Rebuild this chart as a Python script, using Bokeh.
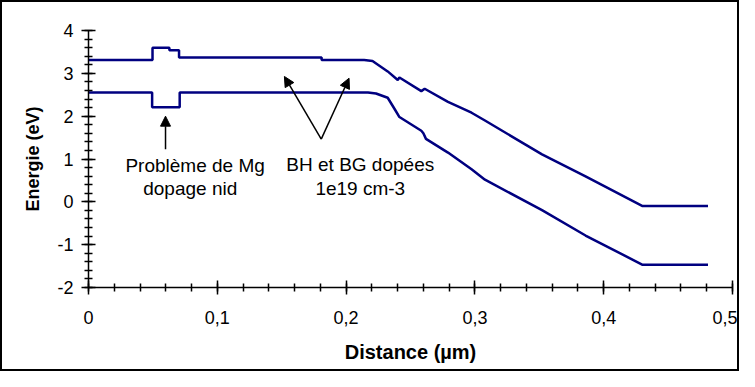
from bokeh.plotting import figure
from bokeh.models import (Range1d, SingleIntervalTicker, CustomJSTickFormatter,
                          Arrow, NormalHead, Label)
from bokeh.embed import file_html
from bokeh.resources import INLINE

# Upper curve
upper_x = [0.0, 0.0497, 0.0497, 0.0628, 0.0628, 0.0703, 0.0703, 0.181, 0.181, 0.214,
           0.2205, 0.2323, 0.2401, 0.2414, 0.2584, 0.261, 0.2791, 0.2974, 0.3078,
           0.3521, 0.3859, 0.4302, 0.481]
upper_y = [3.31, 3.31, 3.60, 3.60, 3.54, 3.54, 3.37, 3.37, 3.31, 3.31,
           3.29, 3.045, 2.846, 2.903, 2.585, 2.64, 2.334, 2.08, 1.898,
           1.109, 0.595, -0.10, -0.10]

# Lower curve
lower_x = [0.0, 0.0494, 0.0494, 0.0708, 0.0708, 0.217, 0.2232, 0.2323, 0.2380, 0.2414,
           0.2584, 0.2600, 0.2620, 0.2791, 0.2974, 0.3078, 0.3521, 0.3859, 0.4302, 0.481]
lower_y = [2.555, 2.555, 2.21, 2.21, 2.555, 2.555, 2.53, 2.43, 2.15, 1.98,
           1.66, 1.60, 1.47, 1.15, 0.76, 0.517, -0.194, -0.787, -1.47, -1.47]

FONT = "Liberation Sans"

p = figure(width=739, height=371, output_backend="svg", toolbar_location=None,
           x_range=Range1d(0, 0.5), y_range=Range1d(-2, 4),
           min_border_left=86, min_border_right=9, min_border_top=28, min_border_bottom=86)
p.styles = {"border": "2px solid black"}
p.grid.visible = False
p.outline_line_color = None
p.background_fill_color = "white"
p.border_fill_color = "white"

p.xaxis.ticker = SingleIntervalTicker(interval=0.1, num_minor_ticks=5)
p.yaxis.ticker = SingleIntervalTicker(interval=1, num_minor_ticks=5)
p.xaxis.formatter = CustomJSTickFormatter(
    code="return Math.abs(tick) < 1e-9 ? '0' : tick.toFixed(1).replace('.', ',');")
p.yaxis.formatter = CustomJSTickFormatter(code="return Math.round(tick).toString();")

for ax in (p.xaxis[0], p.yaxis[0]):
    ax.axis_line_color = "black"
    ax.axis_line_width = 1.5
    ax.major_tick_line_color = "black"
    ax.minor_tick_line_color = "black"
    ax.major_tick_line_width = 1.5
    ax.minor_tick_line_width = 1.5
    ax.major_tick_in = 7
    ax.major_tick_out = 7
    ax.minor_tick_in = 4
    ax.minor_tick_out = 4
    ax.major_label_text_font = FONT
    ax.major_label_text_font_size = "18px"
    ax.major_label_text_color = "black"
    ax.axis_label_text_font = FONT
    ax.axis_label_text_font_style = "bold"
    ax.axis_label_text_color = "black"

p.xaxis.axis_label = "Distance (µm)"
p.yaxis.axis_label = "Energie (eV)"
p.xaxis.axis_label_text_font_size = "20px"
p.yaxis.axis_label_text_font_size = "18px"
p.xaxis.major_label_standoff = 16
p.xaxis.axis_label_standoff = 14
p.yaxis.major_label_standoff = 8
p.yaxis.axis_label_standoff = 11

p.line(upper_x, upper_y, line_color="#000080", line_width=2.5)
p.line(lower_x, lower_y, line_color="#000080", line_width=2.5)

def arrow(x0, y0, x1, y1):
    p.add_layout(Arrow(end=NormalHead(size=10, fill_color="black", line_color="black"),
                       x_start=x0, y_start=y0, x_end=x1, y_end=y1,
                       line_color="black", line_width=1.5))

arrow(0.0598, 1.23, 0.0598, 2.0)
arrow(0.1807, 1.464, 0.1521, 2.927)
arrow(0.1807, 1.464, 0.2023, 2.886)

def label(x, y, t):
    p.add_layout(Label(x=x, y=y, text=t, text_align="center", text_baseline="alphabetic",
                       text_font=FONT, text_font_size="19px", text_color="black"))

label(0.0828, 0.85, "Problème de Mg")
label(0.0790, 0.30, "dopage nid")
label(0.2110, 0.87, "BH et BG dopées")
label(0.2110, 0.32, "1e19 cm-3")

open("out.html", "w").write(file_html(p, INLINE))
